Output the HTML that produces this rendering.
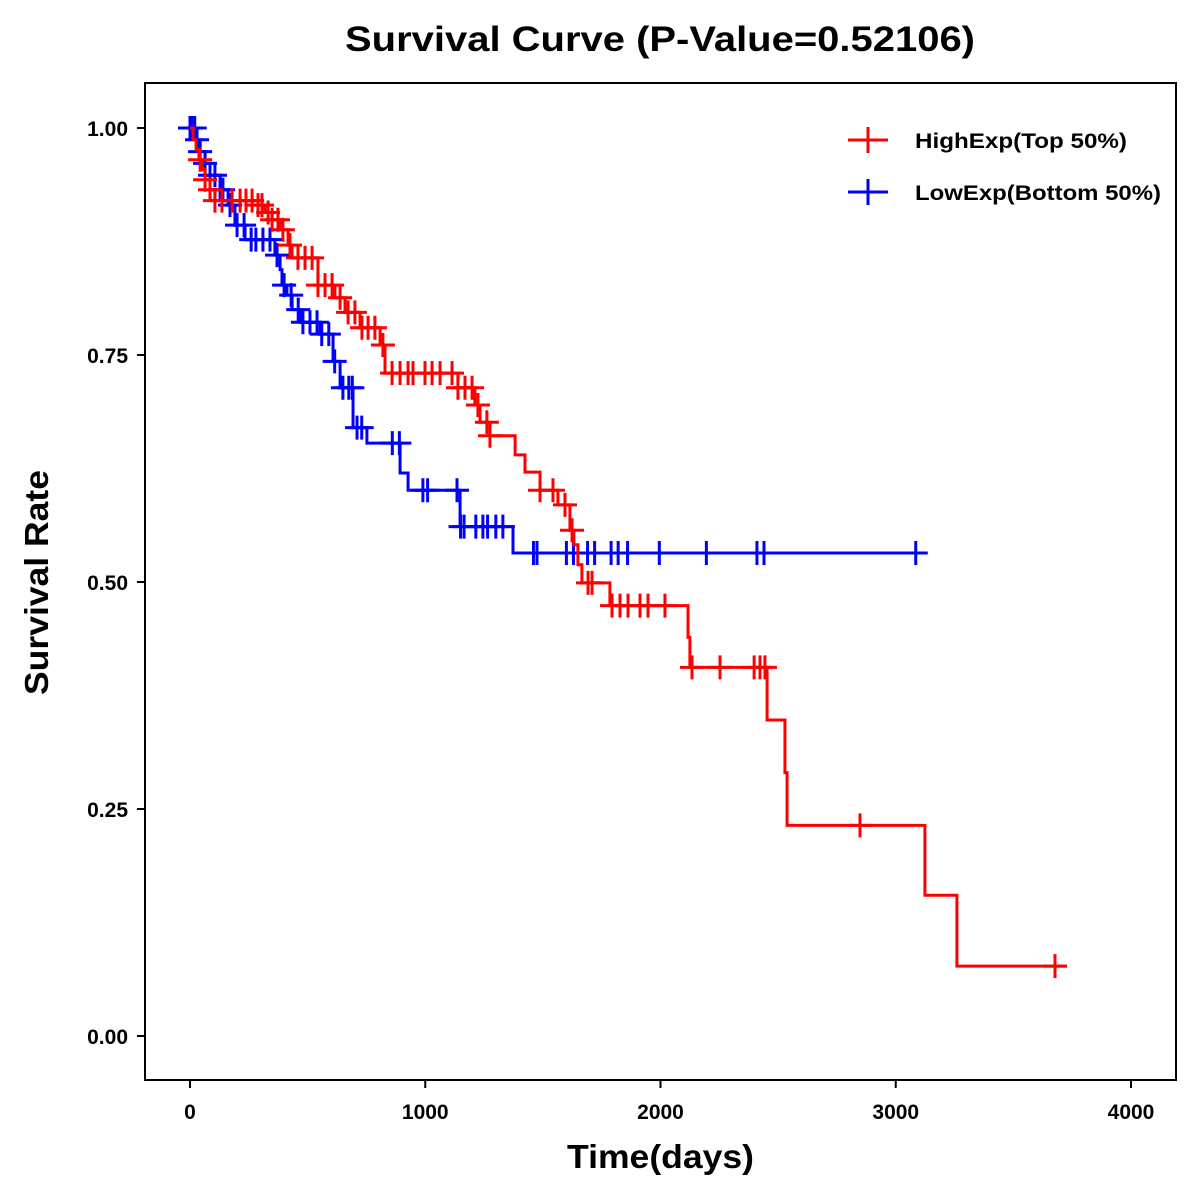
<!DOCTYPE html>
<html><head><meta charset="utf-8"><style>
body{margin:0;background:#fff}
svg{display:block;font-family:"Liberation Sans",Arial,sans-serif;font-weight:bold}
</style></head><body>
<svg id="chart" width="1200" height="1200" viewBox="0 0 1200 1200">
<rect width="1200" height="1200" fill="#fff"/>
<text x="345" y="51" font-size="35" textLength="630" lengthAdjust="spacingAndGlyphs">Survival Curve (P-Value=0.52106)</text>
<rect x="145" y="83" width="1031" height="997" fill="none" stroke="#000" stroke-width="2"/>
<g id="xaxis"></g>
<g id="yaxis"></g>
<text x="567" y="1168" font-size="33" textLength="187" lengthAdjust="spacingAndGlyphs">Time(days)</text>
<text transform="translate(48,695) rotate(-90)" font-size="33" textLength="225" lengthAdjust="spacingAndGlyphs">Survival Rate</text>
<g id="series"></g>
<g>
<g>
<line x1="848" y1="140" x2="888" y2="140" stroke="#f00" stroke-width="3"/><line x1="868" y1="127" x2="868" y2="153" stroke="#f00" stroke-width="3"/>
<text x="915" y="148" font-size="21" textLength="212" lengthAdjust="spacingAndGlyphs">HighExp(Top 50%)</text></g>
<g>
<line x1="848" y1="192" x2="888" y2="192" stroke="#00f" stroke-width="3"/><line x1="868" y1="179" x2="868" y2="205" stroke="#00f" stroke-width="3"/>
<text x="915" y="200" font-size="21" textLength="246" lengthAdjust="spacingAndGlyphs">LowExp(Bottom 50%)</text></g>
</g>
</svg>
<script>
const xTicks=[0,1000,2000,3000,4000];
const yTicks=[0,0.25,0.5,0.75,1.0];
const yTickLabels=["0.00","0.25","0.50","0.75","1.00"];
const highTimes=[0,13,26,38,51,64,85,106,289,319,349,383,417,434,544,616,659,723,808,829,1139,1211,1233,1275,1382,1424,1488,1564,1615,1632,1649,1666,1785,2117,2125,2453,2529,2538,3124,3260];
const highSurv=[1,.987,.976,.965,.954,.943,.932,.92,.915,.907,.899,.888,.871,.857,.827,.813,.797,.780,.761,.730,.714,.695,.676,.661,.640,.621,.601,.585,.557,.541,.519,.499,.474,.439,.406,.348,.290,.232,.155,.077];
const highEnd=3719;
const highCensor=[43,64,85,106,136,179,213,238,264,289,306,332,349,374,395,425,459,489,519,544,574,604,638,672,701,731,757,786,820,859,893,927,948,999,1029,1063,1114,1139,1169,1199,1224,1262,1275,1488,1543,1594,1624,1692,1709,1794,1828,1862,1913,1947,2019,2134,2253,2398,2423,2444,2848,3677];
const lowTimes=[0,21,43,64,85,128,162,191,234,361,383,391,412,434,468,553,608,638,693,752,893,927,1148,1373];
const lowSurv=[1,.987,.974,.961,.948,.932,.915,.893,.877,.860,.844,.827,.816,.800,.786,.773,.743,.714,.670,.653,.620,.601,.561,.532];
const lowEnd=3112;
const lowCensor=[0,2,5,10,20,30,43,64,85,106,128,140,170,200,230,260,280,310,340,370,400,430,460,480,510,540,560,590,615,650,675,690,710,730,860,890,990,1010,1135,1150,1165,1215,1245,1265,1300,1330,1460,1475,1600,1630,1690,1720,1790,1820,1860,1995,2195,2410,2440,3085];

const NS='http://www.w3.org/2000/svg';
function X(d){return 190+d*0.23525;}
function Y(s){return 1036-s*908;}
function mk(tag,attrs,parent){const e=document.createElementNS(NS,tag);for(const k in attrs)e.setAttribute(k,attrs[k]);parent.appendChild(e);return e;}
const xa=document.getElementById('xaxis'),ya=document.getElementById('yaxis'),ser=document.getElementById('series');
xTicks.forEach(t=>{
  const l=mk('line',{x1:X(t),x2:X(t),y1:1080,y2:1088,stroke:'#000','stroke-width':2},xa);
  
  
  const tx=mk('text',{x:X(t),y:1119,'text-anchor':'middle','font-size':21},xa);tx.textContent=t;
  
  
});
yTicks.forEach((t,i)=>{
  const l=mk('line',{x1:137,x2:145,y1:Y(t),y2:Y(t),stroke:'#000','stroke-width':2},ya);
  
  
  const tx=mk('text',{x:128,y:Y(t)+8,'text-anchor':'end','font-size':21},ya);tx.textContent=yTickLabels[i];
  
  
});
function survAt(times,surv,d){let s=surv[0];for(let i=0;i<times.length;i++){if(times[i]<=d)s=surv[i];}return s;}
function drawSeries(times,surv,end,cens,color,name){
  let p='M'+X(times[0])+','+Y(surv[0]);
  for(let i=1;i<times.length;i++){p+=' H'+X(times[i])+' V'+Y(surv[i]);}
  p+=' H'+X(end);
  const path=mk('path',{d:p,fill:'none',stroke:color,'stroke-width':3},ser);
  
  
  cens.forEach(c=>{
    const s=survAt(times,surv,c),x=X(c),y=Y(s);
    const g=mk('path',{d:'M'+(x-12)+','+y+' H'+(x+12)+' M'+x+','+(y-12)+' V'+(y+12),stroke:color,'stroke-width':3,fill:'none'},ser);
    
    
  });
}
drawSeries(lowTimes,lowSurv,lowEnd,lowCensor,'#00f','low-exp');
drawSeries(highTimes,highSurv,highEnd,highCensor,'#f00','high-exp');
</script>
</body></html>
